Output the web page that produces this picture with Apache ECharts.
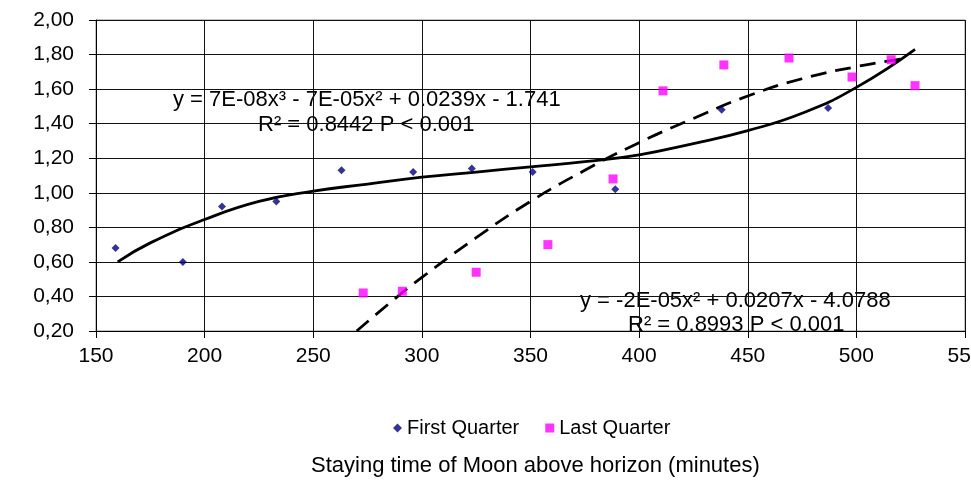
<!DOCTYPE html>
<html lang="en">
<head>
<meta charset="UTF-8">
<title>Moon staying time</title>
<script src="https://cdn.jsdelivr.net/npm/echarts/dist/echarts.min.js"></script>
<style>
    body { margin: 0; }
    #chart {
        width: 971px;
        height: 480px;
    }
</style>
</head>
<body>

<div id="chart"></div>

<script>
// observed points [minutes, value]
var firstQuarter = [
    [159, 0.68], [190, 0.60], [208, 0.92], [233, 0.95], [263, 1.13],
    [296, 1.12], [323, 1.14], [351, 1.12], [389, 1.02], [438, 1.48], [487, 1.49]
];
var lastQuarter = [
    [273, 0.42], [291, 0.43], [325, 0.54], [358, 0.70], [388, 1.08],
    [411, 1.59], [439, 1.74], [469, 1.78], [498, 1.67], [516, 1.77], [527, 1.62]
];

// trend lines
var cubicTrend = [
    [160, 0.60], [175, 0.71], [200, 0.845], [225, 0.95], [250, 1.01],
    [275, 1.05], [300, 1.09], [325, 1.12], [350, 1.15], [375, 1.18],
    [400, 1.22], [425, 1.285], [450, 1.36], [475, 1.46], [500, 1.61], [527, 1.83]
];
var quadTrend = [
    [270, 0.20], [285, 0.36], [300, 0.51], [325, 0.74], [350, 0.95],
    [375, 1.13], [400, 1.29], [425, 1.43], [450, 1.56], [475, 1.66],
    [500, 1.73], [524, 1.78]
];

var legendNames = ['First Quarter', 'Last Quarter'];
var cubicText = ['y = 7E-08x³ - 7E-05x² + 0.0239x - 1.741', 'R² = 0.8442 P < 0.001'];
var quadText = ['y = -2E-05x² + 0.0207x - 4.0788', 'R² = 0.8993 P < 0.001'];
var xTitle = 'Staying time of Moon above horizon (minutes)';

var font = 'Arial, "Liberation Sans", sans-serif';

var chartDom = document.getElementById('chart');
var myChart = echarts.init(chartDom);

var option = {
    animation: false,
    grid: {
        left: 96, right: 6, top: 20, bottom: 149,
        outerBoundsMode: 'none',
        show: true, borderColor: '#888', borderWidth: 1
    },
    legend: {
        data: legendNames,
        left: 388, top: 413,
        itemWidth: 9, itemHeight: 9, itemGap: 26,
        textStyle: { fontFamily: font, fontSize: 20, color: '#000' }
    },
    xAxis: {
        type: 'value',
        min: 150, max: 550, interval: 50,
        axisLine: { lineStyle: { color: '#000' } },
        axisTick: { show: true, length: 7, lineStyle: { color: '#000' } },
        axisLabel: { fontFamily: font, fontSize: 21, color: '#000', margin: 15 },
        splitLine: { lineStyle: { color: '#111', width: 1 } }
    },
    yAxis: {
        type: 'value',
        min: 0.2, max: 2.0, interval: 0.2,
        axisLine: { show: true, lineStyle: { color: '#000' } },
        axisTick: { show: true, length: 7, lineStyle: { color: '#000' } },
        axisLabel: {
            fontFamily: font, fontSize: 21, color: '#000', margin: 22,
            formatter: function (v) { return v.toFixed(2).replace('.', ','); }
        },
        splitLine: { lineStyle: { color: '#111', width: 1 } }
    },
    graphic: [
        { type: 'text', left: 173, top: 89, style: { text: cubicText[0], font: '22px ' + font, fill: '#000' } },
        { type: 'text', left: 258, top: 114, style: { text: cubicText[1], font: '22px ' + font, fill: '#000' } },
        { type: 'text', left: 580, top: 290, style: { text: quadText[0], font: '22px ' + font, fill: '#000' } },
        { type: 'text', left: 628, top: 314, style: { text: quadText[1], font: '22px ' + font, fill: '#000' } },
        { type: 'text', left: 311, top: 455, style: { text: xTitle, font: '22px ' + font, fill: '#000' } }
    ],
    series: [
        {
            name: 'cubic', type: 'line', data: cubicTrend, smooth: true,
            showSymbol: false, z: 3,
            lineStyle: { color: '#000', width: 2.8 }
        },
        {
            name: 'quad', type: 'line', data: quadTrend, smooth: true,
            showSymbol: false, z: 3,
            lineStyle: { color: '#000', width: 2.8, type: [16, 9] }
        },
        {
            name: legendNames[0], type: 'scatter', data: firstQuarter,
            symbol: 'diamond', symbolSize: 8, z: 4,
            itemStyle: { color: '#000080' }
        },
        {
            name: legendNames[1], type: 'scatter', data: lastQuarter,
            symbol: 'rect', symbolSize: 9, z: 4,
            itemStyle: { color: '#ff00ff' }
        }
    ]
};

myChart.setOption(option);
</script>

</body>
</html>
